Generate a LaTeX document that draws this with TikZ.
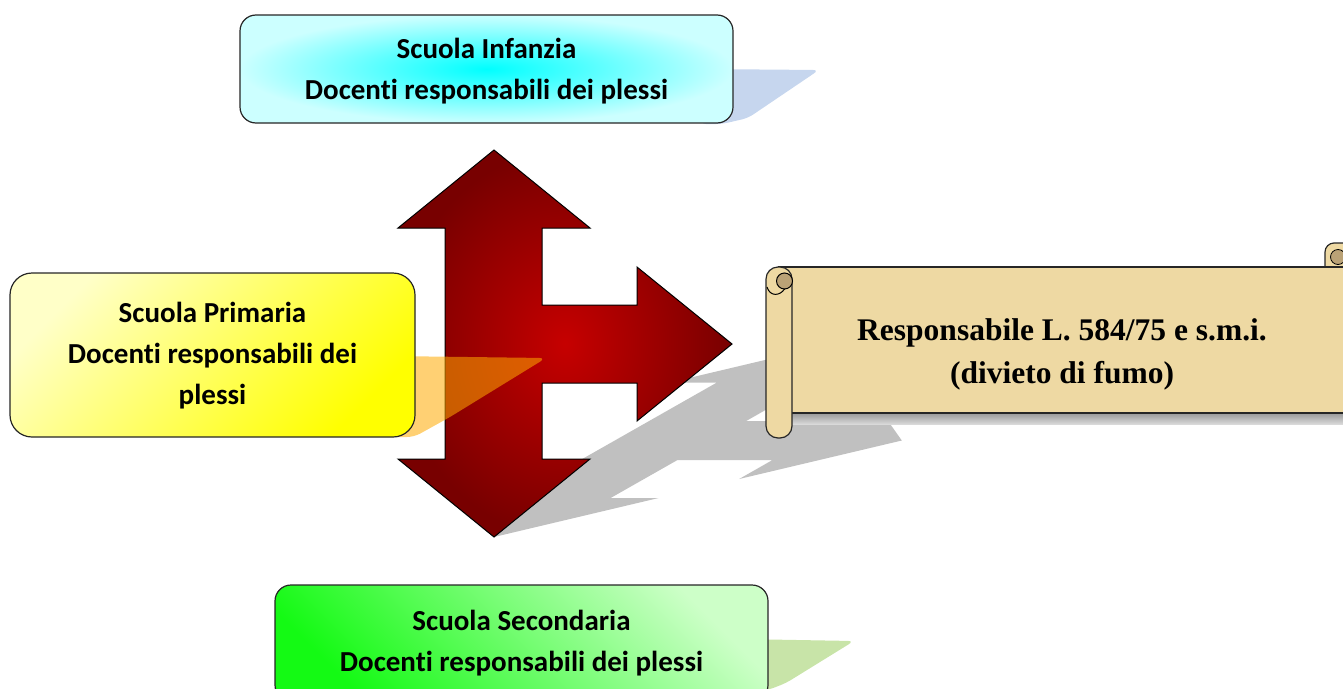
\documentclass[tikz,border=0pt]{standalone}
\usepackage{fontspec}
\setmainfont{Carlito}[Ligatures=NoCommon]
\newfontfamily\scrollfont{Liberation Serif}

\definecolor{infinner}{RGB}{0,255,255}
\definecolor{infouter}{RGB}{204,255,255}
\definecolor{infshadow}{RGB}{198,214,238}
\definecolor{primlight}{RGB}{255,255,200}
\definecolor{primdark}{RGB}{255,255,0}
\definecolor{primshadow}{RGB}{255,170,0}
\definecolor{seclight}{RGB}{205,255,200}
\definecolor{secdark}{RGB}{20,250,20}
\definecolor{secshadow}{RGB}{200,228,168}
\definecolor{arrowlight}{RGB}{198,0,0}
\definecolor{arrowdark}{RGB}{120,0,0}
\definecolor{floorshadow}{RGB}{192,192,192}
\definecolor{parch}{RGB}{238,217,163}
\definecolor{parchdark}{RGB}{186,162,118}

\tikzset{
  schoolbox/.style={draw=black!85, line width=1.2pt, rounded corners=16pt,
    inner sep=0pt},
  schooltext/.style={align=center, inner sep=0pt,
    font=\bfseries\fontsize{29}{41}\selectfont},
  outline/.style={draw=black!85, line width=1.2pt},
}

\begin{document}
\begin{tikzpicture}[x=1pt, y=-1pt]
\useasboundingbox (0,0) rectangle (1343,688);
\clip (0,0) rectangle (1343,688);

% floor shadow of the three-way arrow
\fill[floorshadow] (834.6,343.5) -- (861.9,382.5) -- (813.9,382.5) -- (746.2,421)
  -- (841.2,421) -- (874.6,402) -- (901.8,440.5) -- (739.1,479) -- (772.5,460)
  -- (677.5,460) -- (610.6,498) -- (658.6,498) -- (494,537) -- (466.6,498)
  -- (513.6,498) -- (716.9,382.5) -- (669.9,382.5) -- cycle;

% soft shadow under the scroll
\fill[top color=black!40, bottom color=black!15] (792,413) rectangle (1343,424);

% shadows trailing the school boxes
\fill[infshadow, rounded corners=6pt] (700,69) -- (819,70) -- (748,118) -- (722,124) -- (700,124) -- cycle;
\fill[secshadow, rounded corners=6pt] (740,639) -- (854,641) -- (786,683) -- (768,690) -- (740,690) -- cycle;

% three-way arrow
\shade[draw=black, line width=1pt, inner color=arrowlight, outer color=arrowdark]
  (494,150) -- (590,228) -- (542,228) -- (542,305) -- (637,305) -- (637,267)
  -- (732,344) -- (637,421) -- (637,383) -- (542,383) -- (542,459) -- (590,459)
  -- (494,537) -- (398,459) -- (445,459) -- (445,228) -- (398,228) -- cycle;

% translucent shadow of the primary school box, falling over the arrow
\fill[primshadow, opacity=0.55, rounded corners=7pt]
  (390,356) -- (546,358) -- (450,417) -- (414,437) -- (390,437) -- cycle;

% scroll: right curl, body, left roll
\draw[outline, fill=parch, rounded corners=9pt] (1325,272) -- (1325,243) -- (1352,243) -- (1352,272);
\draw[line width=0.8pt, fill=parchdark] (1338,257) circle (7.5pt);
\draw[outline, fill=parch] (779,267) -- (1352,267) -- (1352,413) -- (779,413) -- cycle;
\draw[outline, fill=parch, rounded corners=12pt] (766,267) rectangle (792,438);
\draw[line width=1pt, fill=parchdark] (784.5,281) circle (8pt);
\draw[line width=1pt] (767,287) .. controls (770,297) and (780,296) .. (784.5,289);

\node[font=\scrollfont\bfseries\fontsize{31.5}{43}\selectfont, align=center, inner sep=0pt]
  (resp) at (1062,354) {Responsabile L. 584/75 e s.m.i.\\(divieto di fumo)};

% school boxes
\node[schoolbox, minimum width=493pt, minimum height=108pt,
  inner color=infinner, outer color=infouter] (infanzia) at (486.5,69) {};
\node[schooltext] (inftext) at (486.5,71.5) {Scuola Infanzia\\Docenti responsabili dei plessi};

\node[schoolbox, rounded corners=22pt, minimum width=405pt, minimum height=164pt,
  top color=primlight, bottom color=primdark, shading angle=45] (primaria) at (212.5,355) {};
\node[schooltext] (primtext) at (212.5,355.5) {Scuola Primaria\\Docenti responsabili dei\\plessi};

\node[schoolbox, minimum width=493pt, minimum height=116pt,
  top color=seclight, bottom color=secdark, shading angle=-45] (secondaria) at (521.5,643) {};
\node[schooltext] (sectext) at (521.5,643) {Scuola Secondaria\\Docenti responsabili dei plessi};
\end{tikzpicture}
\end{document}
